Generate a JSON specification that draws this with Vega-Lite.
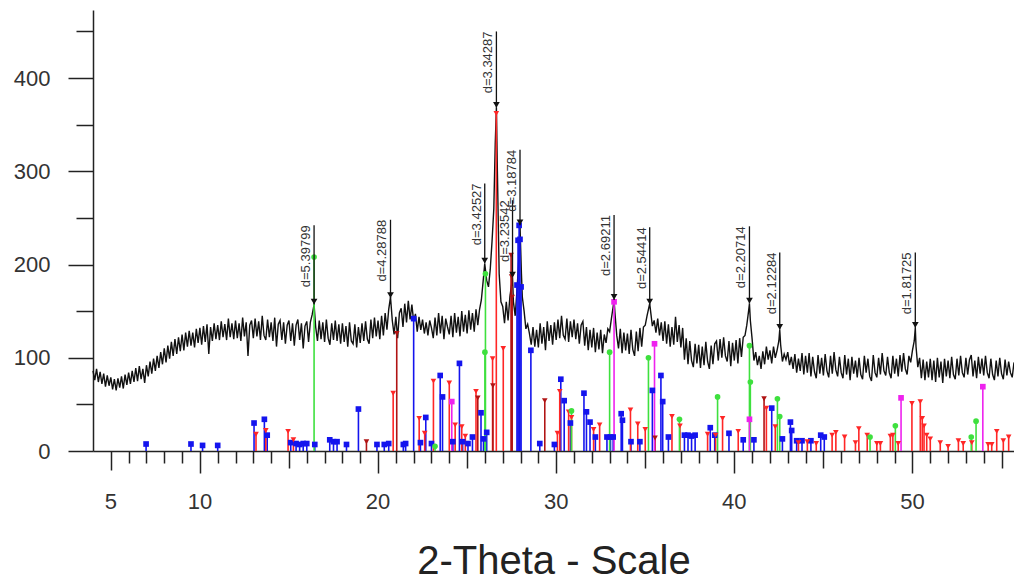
{
  "$schema": "https://vega.github.io/schema/vega-lite/v6.json",
  "width": 921,
  "height": 441,
  "autosize": {"type": "none"},
  "padding": {"left": 93, "top": 10, "right": 0, "bottom": 128},
  "background": "white",
  "config": {"view": {"stroke": null}},
  "datasets": {
    "xrd": [
      {"t":4.0,"y":86},{"t":4.1,"y":76},{"t":4.2,"y":88},{"t":4.3,"y":74},{"t":4.4,"y":85},{"t":4.5,"y":72},{"t":4.6,"y":83},{"t":4.7,"y":69},{"t":4.8,"y":81},{"t":4.9,"y":70},
      {"t":5.0,"y":79},{"t":5.1,"y":66},{"t":5.2,"y":77},{"t":5.3,"y":65},{"t":5.4,"y":78},{"t":5.5,"y":68},{"t":5.6,"y":80},{"t":5.7,"y":67},{"t":5.8,"y":82},{"t":5.9,"y":71},
      {"t":6.0,"y":84},{"t":6.1,"y":72},{"t":6.2,"y":86},{"t":6.3,"y":74},{"t":6.4,"y":89},{"t":6.5,"y":75},{"t":6.6,"y":91},{"t":6.7,"y":77},{"t":6.8,"y":88},{"t":6.9,"y":73},
      {"t":7.0,"y":92},{"t":7.1,"y":80},{"t":7.2,"y":96},{"t":7.3,"y":83},{"t":7.4,"y":99},{"t":7.5,"y":86},{"t":7.6,"y":102},{"t":7.7,"y":89},{"t":7.8,"y":106},{"t":7.9,"y":93},
      {"t":8.0,"y":110},{"t":8.1,"y":95},{"t":8.2,"y":113},{"t":8.3,"y":99},{"t":8.4,"y":117},{"t":8.5,"y":102},{"t":8.6,"y":120},{"t":8.7,"y":104},{"t":8.8,"y":122},{"t":8.9,"y":107},
      {"t":9.0,"y":125},{"t":9.1,"y":108},{"t":9.2,"y":127},{"t":9.3,"y":112},{"t":9.4,"y":129},{"t":9.5,"y":113},{"t":9.6,"y":127},{"t":9.7,"y":111},{"t":9.8,"y":131},{"t":9.9,"y":116},
      {"t":10.0,"y":132},{"t":10.1,"y":114},{"t":10.2,"y":134},{"t":10.3,"y":117},{"t":10.4,"y":136},{"t":10.5,"y":104},{"t":10.6,"y":133},{"t":10.7,"y":118},{"t":10.8,"y":137},{"t":10.9,"y":120},
      {"t":11.0,"y":135},{"t":11.1,"y":119},{"t":11.2,"y":139},{"t":11.3,"y":122},{"t":11.4,"y":136},{"t":11.5,"y":119},{"t":11.6,"y":142},{"t":11.7,"y":122},{"t":11.8,"y":137},{"t":11.9,"y":120},
      {"t":12.0,"y":140},{"t":12.1,"y":121},{"t":12.2,"y":137},{"t":12.3,"y":118},{"t":12.4,"y":143},{"t":12.5,"y":123},{"t":12.6,"y":138},{"t":12.7,"y":102},{"t":12.8,"y":135},{"t":12.9,"y":140},
      {"t":13.0,"y":121},{"t":13.1,"y":142},{"t":13.2,"y":123},{"t":13.3,"y":139},{"t":13.4,"y":119},{"t":13.5,"y":145},{"t":13.6,"y":124},{"t":13.7,"y":119},{"t":13.8,"y":141},{"t":13.9,"y":122},
      {"t":14.0,"y":138},{"t":14.1,"y":118},{"t":14.2,"y":143},{"t":14.3,"y":112},{"t":14.4,"y":136},{"t":14.5,"y":140},{"t":14.6,"y":119},{"t":14.7,"y":138},{"t":14.8,"y":115},{"t":14.9,"y":135},
      {"t":15.0,"y":140},{"t":15.1,"y":118},{"t":15.2,"y":137},{"t":15.3,"y":113},{"t":15.4,"y":135},{"t":15.5,"y":141},{"t":15.6,"y":119},{"t":15.7,"y":137},{"t":15.8,"y":110},{"t":15.9,"y":134},
      {"t":16.0,"y":139},{"t":16.1,"y":117},{"t":16.2,"y":138},{"t":16.3,"y":146},{"t":16.41,"y":157},{"t":16.5,"y":133},{"t":16.6,"y":118},{"t":16.7,"y":140},{"t":16.8,"y":120},{"t":16.9,"y":138},
      {"t":17.0,"y":117},{"t":17.1,"y":141},{"t":17.2,"y":121},{"t":17.3,"y":114},{"t":17.4,"y":137},{"t":17.5,"y":119},{"t":17.6,"y":140},{"t":17.7,"y":118},{"t":17.8,"y":136},{"t":17.9,"y":115},
      {"t":18.0,"y":137},{"t":18.1,"y":117},{"t":18.2,"y":134},{"t":18.3,"y":112},{"t":18.4,"y":138},{"t":18.5,"y":118},{"t":18.6,"y":115},{"t":18.7,"y":136},{"t":18.8,"y":111},{"t":18.9,"y":133},
      {"t":19.0,"y":116},{"t":19.1,"y":137},{"t":19.2,"y":118},{"t":19.3,"y":139},{"t":19.4,"y":120},{"t":19.5,"y":115},{"t":19.6,"y":141},{"t":19.7,"y":121},{"t":19.8,"y":143},{"t":19.9,"y":123},
      {"t":20.0,"y":140},{"t":20.1,"y":120},{"t":20.2,"y":145},{"t":20.3,"y":124},{"t":20.4,"y":148},{"t":20.5,"y":130},{"t":20.6,"y":152},{"t":20.7,"y":165},{"t":20.8,"y":140},{"t":20.9,"y":125},
      {"t":21.0,"y":144},{"t":21.1,"y":121},{"t":21.2,"y":148},{"t":21.3,"y":153},{"t":21.4,"y":133},{"t":21.5,"y":158},{"t":21.6,"y":138},{"t":21.7,"y":161},{"t":21.8,"y":141},{"t":21.9,"y":157},
      {"t":22.0,"y":139},{"t":22.1,"y":147},{"t":22.2,"y":128},{"t":22.3,"y":144},{"t":22.4,"y":130},{"t":22.5,"y":141},{"t":22.6,"y":126},{"t":22.7,"y":138},{"t":22.8,"y":124},{"t":22.9,"y":140},
      {"t":23.0,"y":132},{"t":23.1,"y":121},{"t":23.2,"y":143},{"t":23.3,"y":124},{"t":23.4,"y":148},{"t":23.5,"y":126},{"t":23.6,"y":145},{"t":23.7,"y":120},{"t":23.8,"y":142},{"t":23.9,"y":133},
      {"t":24.0,"y":125},{"t":24.1,"y":145},{"t":24.2,"y":122},{"t":24.3,"y":148},{"t":24.4,"y":127},{"t":24.5,"y":144},{"t":24.6,"y":123},{"t":24.7,"y":150},{"t":24.8,"y":128},{"t":24.9,"y":146},
      {"t":25.0,"y":126},{"t":25.1,"y":151},{"t":25.2,"y":130},{"t":25.3,"y":148},{"t":25.4,"y":128},{"t":25.5,"y":152},{"t":25.6,"y":135},{"t":25.7,"y":152},{"t":25.8,"y":162},{"t":25.9,"y":182},
      {"t":25.99,"y":201},{"t":26.1,"y":183},{"t":26.2,"y":176},{"t":26.3,"y":195},{"t":26.4,"y":225},{"t":26.5,"y":260},{"t":26.58,"y":330},{"t":26.645,"y":368},{"t":26.7,"y":300},{"t":26.8,"y":190},{"t":26.9,"y":160},
      {"t":27.0,"y":155},{"t":27.1,"y":137},{"t":27.2,"y":160},{"t":27.3,"y":140},{"t":27.4,"y":165},{"t":27.55,"y":186},{"t":27.6,"y":160},{"t":27.7,"y":145},{"t":27.8,"y":172},{"t":27.9,"y":205},
      {"t":27.97,"y":242},{"t":28.05,"y":190},{"t":28.1,"y":165},{"t":28.2,"y":150},{"t":28.3,"y":131},{"t":28.4,"y":136},{"t":28.5,"y":126},{"t":28.6,"y":114},{"t":28.7,"y":133},{"t":28.8,"y":112},{"t":28.9,"y":130},
      {"t":29.0,"y":111},{"t":29.1,"y":137},{"t":29.2,"y":115},{"t":29.3,"y":133},{"t":29.4,"y":108},{"t":29.5,"y":139},{"t":29.6,"y":118},{"t":29.7,"y":135},{"t":29.8,"y":114},{"t":29.9,"y":138},
      {"t":30.0,"y":119},{"t":30.1,"y":141},{"t":30.2,"y":121},{"t":30.3,"y":145},{"t":30.4,"y":124},{"t":30.5,"y":120},{"t":30.6,"y":142},{"t":30.7,"y":117},{"t":30.8,"y":139},{"t":30.9,"y":122},
      {"t":31.0,"y":141},{"t":31.1,"y":120},{"t":31.2,"y":137},{"t":31.3,"y":115},{"t":31.4,"y":135},{"t":31.5,"y":139},{"t":31.6,"y":113},{"t":31.7,"y":133},{"t":31.8,"y":108},{"t":31.9,"y":130},
      {"t":32.0,"y":111},{"t":32.1,"y":132},{"t":32.2,"y":106},{"t":32.3,"y":127},{"t":32.4,"y":109},{"t":32.5,"y":130},{"t":32.6,"y":105},{"t":32.7,"y":125},{"t":32.8,"y":116},{"t":32.9,"y":131},
      {"t":33.0,"y":128},{"t":33.1,"y":142},{"t":33.2,"y":155},{"t":33.25,"y":162},{"t":33.3,"y":148},{"t":33.4,"y":124},{"t":33.5,"y":110},{"t":33.6,"y":131},{"t":33.7,"y":105},{"t":33.8,"y":127},{"t":33.9,"y":108},
      {"t":34.0,"y":126},{"t":34.1,"y":104},{"t":34.2,"y":130},{"t":34.3,"y":109},{"t":34.4,"y":102},{"t":34.5,"y":128},{"t":34.6,"y":107},{"t":34.7,"y":132},{"t":34.8,"y":112},{"t":34.9,"y":133},
      {"t":35.0,"y":135},{"t":35.1,"y":145},{"t":35.25,"y":158},{"t":35.3,"y":150},{"t":35.4,"y":134},{"t":35.5,"y":140},{"t":35.6,"y":127},{"t":35.7,"y":142},{"t":35.8,"y":124},{"t":35.9,"y":138},
      {"t":36.0,"y":118},{"t":36.1,"y":139},{"t":36.2,"y":115},{"t":36.3,"y":136},{"t":36.4,"y":112},{"t":36.5,"y":133},{"t":36.6,"y":114},{"t":36.7,"y":144},{"t":36.8,"y":117},{"t":36.9,"y":135},
      {"t":37.0,"y":111},{"t":37.1,"y":132},{"t":37.2,"y":98},{"t":37.3,"y":121},{"t":37.4,"y":93},{"t":37.5,"y":118},{"t":37.6,"y":97},{"t":37.7,"y":90},{"t":37.8,"y":115},{"t":37.9,"y":94},
      {"t":38.0,"y":114},{"t":38.1,"y":89},{"t":38.2,"y":112},{"t":38.3,"y":92},{"t":38.4,"y":117},{"t":38.5,"y":96},{"t":38.6,"y":88},{"t":38.7,"y":113},{"t":38.8,"y":93},{"t":38.9,"y":115},
      {"t":39.0,"y":118},{"t":39.1,"y":97},{"t":39.2,"y":120},{"t":39.3,"y":100},{"t":39.4,"y":122},{"t":39.5,"y":102},{"t":39.6,"y":96},{"t":39.7,"y":118},{"t":39.8,"y":91},{"t":39.9,"y":116},
      {"t":40.0,"y":97},{"t":40.1,"y":119},{"t":40.2,"y":94},{"t":40.3,"y":121},{"t":40.4,"y":101},{"t":40.5,"y":122},{"t":40.6,"y":124},{"t":40.7,"y":135},{"t":40.8,"y":150},{"t":40.85,"y":158},{"t":40.9,"y":140},
      {"t":41.0,"y":120},{"t":41.1,"y":97},{"t":41.2,"y":106},{"t":41.3,"y":92},{"t":41.4,"y":102},{"t":41.5,"y":88},{"t":41.6,"y":107},{"t":41.7,"y":93},{"t":41.8,"y":112},{"t":41.9,"y":98},
      {"t":42.0,"y":108},{"t":42.1,"y":94},{"t":42.2,"y":112},{"t":42.3,"y":100},{"t":42.4,"y":108},{"t":42.5,"y":118},{"t":42.55,"y":130},{"t":42.6,"y":114},{"t":42.7,"y":96},{"t":42.8,"y":104},{"t":42.9,"y":98},
      {"t":43.0,"y":106},{"t":43.1,"y":92},{"t":43.2,"y":101},{"t":43.3,"y":88},{"t":43.4,"y":104},{"t":43.5,"y":84},{"t":43.6,"y":99},{"t":43.7,"y":86},{"t":43.8,"y":105},{"t":43.9,"y":82},
      {"t":44.0,"y":102},{"t":44.1,"y":84},{"t":44.2,"y":105},{"t":44.3,"y":80},{"t":44.4,"y":101},{"t":44.5,"y":85},{"t":44.6,"y":78},{"t":44.7,"y":103},{"t":44.8,"y":83},{"t":44.9,"y":100},
      {"t":45.0,"y":81},{"t":45.1,"y":104},{"t":45.2,"y":86},{"t":45.3,"y":79},{"t":45.4,"y":102},{"t":45.5,"y":83},{"t":45.6,"y":106},{"t":45.7,"y":87},{"t":45.8,"y":80},{"t":45.9,"y":101},
      {"t":46.0,"y":84},{"t":46.1,"y":78},{"t":46.2,"y":103},{"t":46.3,"y":82},{"t":46.4,"y":99},{"t":46.5,"y":76},{"t":46.6,"y":101},{"t":46.7,"y":83},{"t":46.8,"y":97},{"t":46.9,"y":79},
      {"t":47.0,"y":100},{"t":47.1,"y":82},{"t":47.2,"y":77},{"t":47.3,"y":102},{"t":47.4,"y":84},{"t":47.5,"y":99},{"t":47.6,"y":80},{"t":47.7,"y":75},{"t":47.8,"y":103},{"t":47.9,"y":84},
      {"t":48.0,"y":79},{"t":48.1,"y":100},{"t":48.2,"y":82},{"t":48.3,"y":105},{"t":48.4,"y":86},{"t":48.5,"y":81},{"t":48.6,"y":101},{"t":48.7,"y":84},{"t":48.8,"y":78},{"t":48.9,"y":102},
      {"t":49.0,"y":83},{"t":49.1,"y":99},{"t":49.2,"y":80},{"t":49.3,"y":103},{"t":49.4,"y":85},{"t":49.5,"y":105},{"t":49.6,"y":88},{"t":49.7,"y":82},{"t":49.8,"y":102},{"t":49.9,"y":95},
      {"t":50.0,"y":108},{"t":50.1,"y":118},{"t":50.16,"y":132},{"t":50.2,"y":112},{"t":50.3,"y":90},{"t":50.4,"y":100},{"t":50.5,"y":78},{"t":50.6,"y":98},{"t":50.7,"y":76},{"t":50.8,"y":96},{"t":50.9,"y":79},
      {"t":51.0,"y":99},{"t":51.1,"y":76},{"t":51.2,"y":97},{"t":51.3,"y":74},{"t":51.4,"y":100},{"t":51.5,"y":79},{"t":51.6,"y":96},{"t":51.7,"y":73},{"t":51.8,"y":99},{"t":51.9,"y":80},
      {"t":52.0,"y":97},{"t":52.1,"y":78},{"t":52.2,"y":101},{"t":52.3,"y":82},{"t":52.4,"y":77},{"t":52.5,"y":99},{"t":52.6,"y":81},{"t":52.7,"y":102},{"t":52.8,"y":84},{"t":52.9,"y":79},
      {"t":53.0,"y":100},{"t":53.1,"y":82},{"t":53.2,"y":98},{"t":53.3,"y":103},{"t":53.4,"y":80},{"t":53.5,"y":97},{"t":53.6,"y":78},{"t":53.7,"y":101},{"t":53.8,"y":83},{"t":53.9,"y":99},
      {"t":54.0,"y":81},{"t":54.1,"y":102},{"t":54.2,"y":84},{"t":54.3,"y":78},{"t":54.4,"y":99},{"t":54.5,"y":82},{"t":54.6,"y":76},{"t":54.7,"y":97},{"t":54.8,"y":80},{"t":54.9,"y":100},
      {"t":55.0,"y":83},{"t":55.1,"y":77},{"t":55.2,"y":98},{"t":55.3,"y":81},{"t":55.4,"y":96},{"t":55.5,"y":84},{"t":55.6,"y":79},{"t":55.7,"y":95}
    ],
    "sticks": [
      {"t":6.98,"y":7.5,"phase":"Albite"},{"t":9.5,"y":7.5,"phase":"Albite"},{"t":10.15,"y":6,"phase":"Albite"},{"t":11.0,"y":6,"phase":"Albite"},
      {"t":13.04,"y":30,"phase":"Albite"},{"t":13.62,"y":34,"phase":"Albite"},{"t":13.78,"y":17,"phase":"Albite"},{"t":15.1,"y":9,"phase":"Albite"},
      {"t":15.4,"y":8,"phase":"Albite"},{"t":15.6,"y":7,"phase":"Albite"},{"t":15.8,"y":8,"phase":"Albite"},{"t":16.0,"y":8,"phase":"Albite"},
      {"t":16.45,"y":7,"phase":"Albite"},{"t":17.29,"y":12,"phase":"Albite"},{"t":17.5,"y":10,"phase":"Albite"},{"t":17.7,"y":10,"phase":"Albite"},
      {"t":18.23,"y":7,"phase":"Albite"},{"t":18.9,"y":45,"phase":"Albite"},{"t":19.94,"y":7,"phase":"Albite"},{"t":20.35,"y":7,"phase":"Albite"},
      {"t":20.6,"y":8,"phase":"Albite"},{"t":21.42,"y":7,"phase":"Albite"},{"t":21.55,"y":8,"phase":"Albite"},{"t":22.0,"y":142,"phase":"Albite"},
      {"t":22.38,"y":9,"phase":"Albite"},{"t":22.68,"y":36,"phase":"Albite"},{"t":23.0,"y":8,"phase":"Albite"},{"t":23.49,"y":81,"phase":"Albite"},
      {"t":23.62,"y":58,"phase":"Albite"},{"t":24.2,"y":10,"phase":"Albite"},{"t":24.57,"y":94,"phase":"Albite"},{"t":24.75,"y":10,"phase":"Albite"},
      {"t":25.05,"y":8,"phase":"Albite"},{"t":25.3,"y":15,"phase":"Albite"},{"t":25.78,"y":41,"phase":"Albite"},{"t":25.92,"y":13,"phase":"Albite"},
      {"t":26.1,"y":20,"phase":"Albite"},{"t":27.8,"y":178,"phase":"Albite"},{"t":27.86,"y":226,"phase":"Albite"},{"t":27.92,"y":242,"phase":"Albite"},
      {"t":27.97,"y":227,"phase":"Albite"},{"t":28.03,"y":176,"phase":"Albite"},{"t":28.58,"y":108,"phase":"Albite"},{"t":29.08,"y":8,"phase":"Albite"},
      {"t":29.9,"y":7,"phase":"Albite"},{"t":30.26,"y":77,"phase":"Albite"},{"t":30.45,"y":54,"phase":"Albite"},{"t":30.8,"y":30,"phase":"Albite"},
      {"t":31.56,"y":62,"phase":"Albite"},{"t":31.7,"y":42,"phase":"Albite"},{"t":31.9,"y":31,"phase":"Albite"},{"t":32.2,"y":15,"phase":"Albite"},
      {"t":32.85,"y":15,"phase":"Albite"},{"t":33.05,"y":15,"phase":"Albite"},{"t":33.2,"y":15,"phase":"Albite"},{"t":33.65,"y":40,"phase":"Albite"},
      {"t":33.72,"y":33,"phase":"Albite"},{"t":34.2,"y":10,"phase":"Albite"},{"t":34.7,"y":10,"phase":"Albite"},{"t":35.4,"y":65,"phase":"Albite"},
      {"t":35.88,"y":81,"phase":"Albite"},{"t":35.98,"y":53,"phase":"Albite"},{"t":36.3,"y":15,"phase":"Albite"},{"t":37.2,"y":17,"phase":"Albite"},
      {"t":37.4,"y":17,"phase":"Albite"},{"t":37.6,"y":16,"phase":"Albite"},{"t":37.8,"y":17,"phase":"Albite"},{"t":38.65,"y":25,"phase":"Albite"},
      {"t":38.9,"y":17,"phase":"Albite"},{"t":39.7,"y":19,"phase":"Albite"},{"t":40.5,"y":12,"phase":"Albite"},{"t":41.1,"y":12,"phase":"Albite"},
      {"t":42.1,"y":46,"phase":"Albite"},{"t":42.7,"y":13,"phase":"Albite"},{"t":43.15,"y":31,"phase":"Albite"},{"t":43.22,"y":22,"phase":"Albite"},
      {"t":43.5,"y":11,"phase":"Albite"},{"t":43.8,"y":11,"phase":"Albite"},{"t":44.3,"y":11,"phase":"Albite"},{"t":44.85,"y":17,"phase":"Albite"},
      {"t":45.05,"y":15,"phase":"Albite"},
      {"t":13.15,"y":18,"phase":"Quartz"},{"t":13.7,"y":22,"phase":"Quartz"},{"t":14.95,"y":21,"phase":"Quartz"},{"t":15.25,"y":12,"phase":"Quartz"},
      {"t":20.85,"y":62,"phase":"Quartz"},{"t":22.31,"y":35,"phase":"Quartz"},{"t":22.62,"y":19,"phase":"Quartz"},{"t":23.11,"y":75,"phase":"Quartz"},
      {"t":24.0,"y":73,"phase":"Quartz"},{"t":24.33,"y":28,"phase":"Quartz"},{"t":24.7,"y":26,"phase":"Quartz"},{"t":24.9,"y":16,"phase":"Quartz"},
      {"t":25.5,"y":64,"phase":"Quartz"},{"t":26.43,"y":99,"phase":"Quartz"},{"t":26.64,"y":362,"phase":"Quartz"},{"t":27.03,"y":110,"phase":"Quartz"},
      {"t":30.07,"y":19,"phase":"Quartz"},{"t":30.2,"y":64,"phase":"Quartz"},{"t":30.7,"y":42,"phase":"Quartz"},{"t":30.86,"y":36,"phase":"Quartz"},
      {"t":32.1,"y":23,"phase":"Quartz"},{"t":32.44,"y":28,"phase":"Quartz"},{"t":34.17,"y":44,"phase":"Quartz"},{"t":34.58,"y":29,"phase":"Quartz"},
      {"t":35.0,"y":23,"phase":"Quartz"},{"t":36.5,"y":37,"phase":"Quartz"},{"t":36.95,"y":27,"phase":"Quartz"},{"t":38.5,"y":18,"phase":"Quartz"},
      {"t":38.95,"y":17,"phase":"Quartz"},{"t":39.34,"y":35,"phase":"Quartz"},{"t":40.22,"y":21,"phase":"Quartz"},{"t":41.8,"y":46,"phase":"Quartz"},
      {"t":42.3,"y":26,"phase":"Quartz"},{"t":43.6,"y":9,"phase":"Quartz"},{"t":44.1,"y":10,"phase":"Quartz"},{"t":44.6,"y":8,"phase":"Quartz"},
      {"t":45.49,"y":17,"phase":"Quartz"},{"t":45.7,"y":20,"phase":"Quartz"},{"t":46.19,"y":15,"phase":"Quartz"},{"t":46.8,"y":9,"phase":"Quartz"},
      {"t":46.99,"y":24,"phase":"Quartz"},{"t":47.46,"y":17,"phase":"Quartz"},{"t":48.0,"y":8,"phase":"Quartz"},{"t":48.2,"y":8,"phase":"Quartz"},
      {"t":48.76,"y":16,"phase":"Quartz"},{"t":48.9,"y":17,"phase":"Quartz"},{"t":49.2,"y":8,"phase":"Quartz"},{"t":49.97,"y":51,"phase":"Quartz"},
      {"t":50.44,"y":53,"phase":"Quartz"},{"t":50.55,"y":35,"phase":"Quartz"},{"t":50.65,"y":27,"phase":"Quartz"},{"t":50.8,"y":17,"phase":"Quartz"},
      {"t":51.0,"y":13,"phase":"Quartz"},{"t":51.56,"y":9,"phase":"Quartz"},{"t":52.0,"y":5,"phase":"Quartz"},{"t":52.58,"y":11,"phase":"Quartz"},
      {"t":52.85,"y":8,"phase":"Quartz"},{"t":53.33,"y":9,"phase":"Quartz"},{"t":54.25,"y":7,"phase":"Quartz"},{"t":54.45,"y":7,"phase":"Quartz"},
      {"t":54.73,"y":21,"phase":"Quartz"},{"t":55.1,"y":11,"phase":"Quartz"},{"t":55.4,"y":15,"phase":"Quartz"},
      {"t":19.35,"y":10,"phase":"Microcline"},{"t":21.05,"y":126,"phase":"Microcline"},{"t":25.6,"y":57,"phase":"Microcline"},{"t":26.45,"y":70,"phase":"Microcline"},
      {"t":27.47,"y":210,"phase":"Microcline"},{"t":27.5,"y":187,"phase":"Microcline"},{"t":27.53,"y":165,"phase":"Microcline"},{"t":29.36,"y":54,"phase":"Microcline"},
      {"t":35.55,"y":14,"phase":"Microcline"},{"t":41.67,"y":56,"phase":"Microcline"},
      {"t":16.41,"y":208,"phase":"Mullite"},{"t":23.2,"y":5,"phase":"Mullite"},{"t":26.0,"y":106,"phase":"Mullite"},{"t":26.03,"y":190,"phase":"Mullite"},
      {"t":30.86,"y":43,"phase":"Mullite"},{"t":33.0,"y":106,"phase":"Mullite"},{"t":35.18,"y":100,"phase":"Mullite"},{"t":36.92,"y":34,"phase":"Mullite"},
      {"t":39.06,"y":58,"phase":"Mullite"},{"t":40.85,"y":113,"phase":"Mullite"},{"t":40.9,"y":74,"phase":"Mullite"},{"t":42.42,"y":56,"phase":"Mullite"},
      {"t":42.55,"y":37,"phase":"Mullite"},{"t":47.62,"y":15,"phase":"Mullite"},{"t":49.04,"y":27,"phase":"Mullite"},{"t":53.3,"y":15,"phase":"Mullite"},
      {"t":53.57,"y":32,"phase":"Mullite"},
      {"t":24.14,"y":53,"phase":"Hematite"},{"t":33.25,"y":160,"phase":"Hematite"},{"t":35.52,"y":115,"phase":"Hematite"},{"t":40.85,"y":34,"phase":"Hematite"},
      {"t":49.36,"y":57,"phase":"Hematite"},{"t":53.95,"y":69,"phase":"Hematite"}
    ],
    "peaks": [
      {"t":16.41,"y":157,"top":242,"label":"d=5.39799"},
      {"t":20.70,"y":164,"top":248,"label":"d=4.28788"},
      {"t":25.99,"y":201,"top":287,"label":"d=3.42527"},
      {"t":26.645,"y":368,"top":450,"label":"d=3.34287"},
      {"t":27.55,"y":186,"top":269,"label":"d=3.23542"},
      {"t":27.97,"y":242,"top":323,"label":"d=3.18784"},
      {"t":33.25,"y":162,"top":253,"label":"d=2.69211"},
      {"t":35.25,"y":157,"top":240,"label":"d=2.54414"},
      {"t":40.85,"y":158,"top":241,"label":"d=2.20714"},
      {"t":42.55,"y":130,"top":213,"label":"d=2.12284"},
      {"t":50.16,"y":132,"top":213,"label":"d=1.81725"}
    ],
    "xlabels": [
      {"t":5,"lab":"5"},{"t":10,"lab":"10"},{"t":20,"lab":"20"},{"t":30,"lab":"30"},{"t":40,"lab":"40"},{"t":50,"lab":"50"}
    ]
  },
  "layer": [
    {
      "data": {"name": "xrd"},
      "mark": {"type": "line", "color": "#111111", "strokeWidth": 1.4},
      "encoding": {
        "x": {
          "field": "t", "type": "quantitative",
          "scale": {"domain": [4, 55.7], "nice": false, "zero": false},
          "axis": {
            "title": "2-Theta - Scale",
            "titleFont": "Liberation Sans", "titleFontSize": 40, "titleFontWeight": "normal", "titleColor": "#222222",
            "titleBaseline": "alphabetic", "titleY": 122,
            "values": [5,6,7,8,9,10,11,12,13,14,15,16,17,18,19,20,21,22,23,24,25,26,27,28,29,30,31,32,33,34,35,36,37,38,39,40,41,42,43,44,45,46,47,48,49,50,51,52,53,54,55],
            "tickCount": 100,
            "labels": false,
            "tickSize": {"condition": [{"test": "round(datum.value) % 10 == 0", "value": 22}, {"test": "round(datum.value) == 5", "value": 19}, {"test": "round(datum.value) % 5 == 0", "value": 17}], "value": 12},
            "tickColor": "#222222", "tickWidth": 1.5,
            "domainColor": "#222222", "domainWidth": 1.5,
            "grid": false
          }
        },
        "y": {
          "field": "y", "type": "quantitative",
          "scale": {"domain": [0, 473], "nice": false, "zero": true},
          "axis": {
            "title": null,
            "values": [0,50,100,150,200,250,300,350,400,450],
            "tickCount": 100,
            "format": "d",
            "labelExpr": "datum.value % 100 == 0 ? datum.label : ''",
            "tickSize": {"condition": {"test": "datum.value % 100 == 0", "value": 25}, "value": 17},
            "tickColor": "#222222", "tickWidth": 1.5,
            "domainColor": "#222222", "domainWidth": 1.5,
            "labelFont": "Liberation Sans", "labelFontSize": 22, "labelColor": "#333333",
            "labelPadding": 18, "labelFlush": false, "labelOverlap": false,
            "grid": false
          }
        }
      }
    },
    {
      "data": {"name": "sticks"},
      "mark": {"type": "rule", "strokeWidth": 1.6},
      "encoding": {
        "x": {"field": "t", "type": "quantitative", "title": "2-Theta - Scale"},
        "y": {"field": "y", "type": "quantitative", "title": null},
        "y2": {"datum": 0},
        "color": {
          "field": "phase", "type": "nominal", "legend": null,
          "scale": {"domain": ["Albite","Quartz","Microcline","Mullite","Hematite"], "range": ["#1414ee","#ff2626","#b01414","#3ee03e","#ee22ee"]}
        }
      }
    },
    {
      "data": {"name": "sticks"},
      "mark": {"type": "point", "filled": true, "opacity": 1, "size": 32},
      "encoding": {
        "x": {"field": "t", "type": "quantitative", "title": "2-Theta - Scale"},
        "y": {"field": "y", "type": "quantitative", "title": null},
        "color": {
          "field": "phase", "type": "nominal", "legend": null,
          "scale": {"domain": ["Albite","Quartz","Microcline","Mullite","Hematite"], "range": ["#1414ee","#ff2626","#b01414","#3ee03e","#ee22ee"]}
        },
        "shape": {
          "field": "phase", "type": "nominal", "legend": null,
          "scale": {"domain": ["Albite","Quartz","Microcline","Mullite","Hematite"], "range": ["square","triangle-down","triangle-down","circle","square"]}
        }
      }
    },
    {
      "data": {"name": "peaks"},
      "mark": {"type": "rule", "color": "#111111", "strokeWidth": 1.3},
      "encoding": {
        "x": {"field": "t", "type": "quantitative", "title": "2-Theta - Scale"},
        "y": {"field": "y", "type": "quantitative", "title": null},
        "y2": {"field": "top"}
      }
    },
    {
      "data": {"name": "peaks"},
      "mark": {"type": "point", "shape": "triangle-down", "filled": true, "color": "#111111", "opacity": 1, "size": 45, "yOffset": -3},
      "encoding": {
        "x": {"field": "t", "type": "quantitative", "title": "2-Theta - Scale"},
        "y": {"field": "y", "type": "quantitative", "title": null}
      }
    },
    {
      "data": {"name": "peaks"},
      "mark": {"type": "text", "angle": -90, "align": "right", "baseline": "bottom", "dy": -1, "font": "Liberation Sans", "fontSize": 13, "color": "#333333"},
      "encoding": {
        "x": {"field": "t", "type": "quantitative", "title": "2-Theta - Scale"},
        "y": {"field": "top", "type": "quantitative", "title": null},
        "text": {"field": "label"}
      }
    },
    {
      "data": {"name": "xlabels"},
      "mark": {"type": "text", "align": "center", "baseline": "top", "font": "Liberation Sans", "fontSize": 22, "color": "#333333"},
      "encoding": {
        "x": {"field": "t", "type": "quantitative", "title": "2-Theta - Scale"},
        "y": {"datum": -44, "type": "quantitative", "title": null},
        "text": {"field": "lab"}
      }
    }
  ]
}
